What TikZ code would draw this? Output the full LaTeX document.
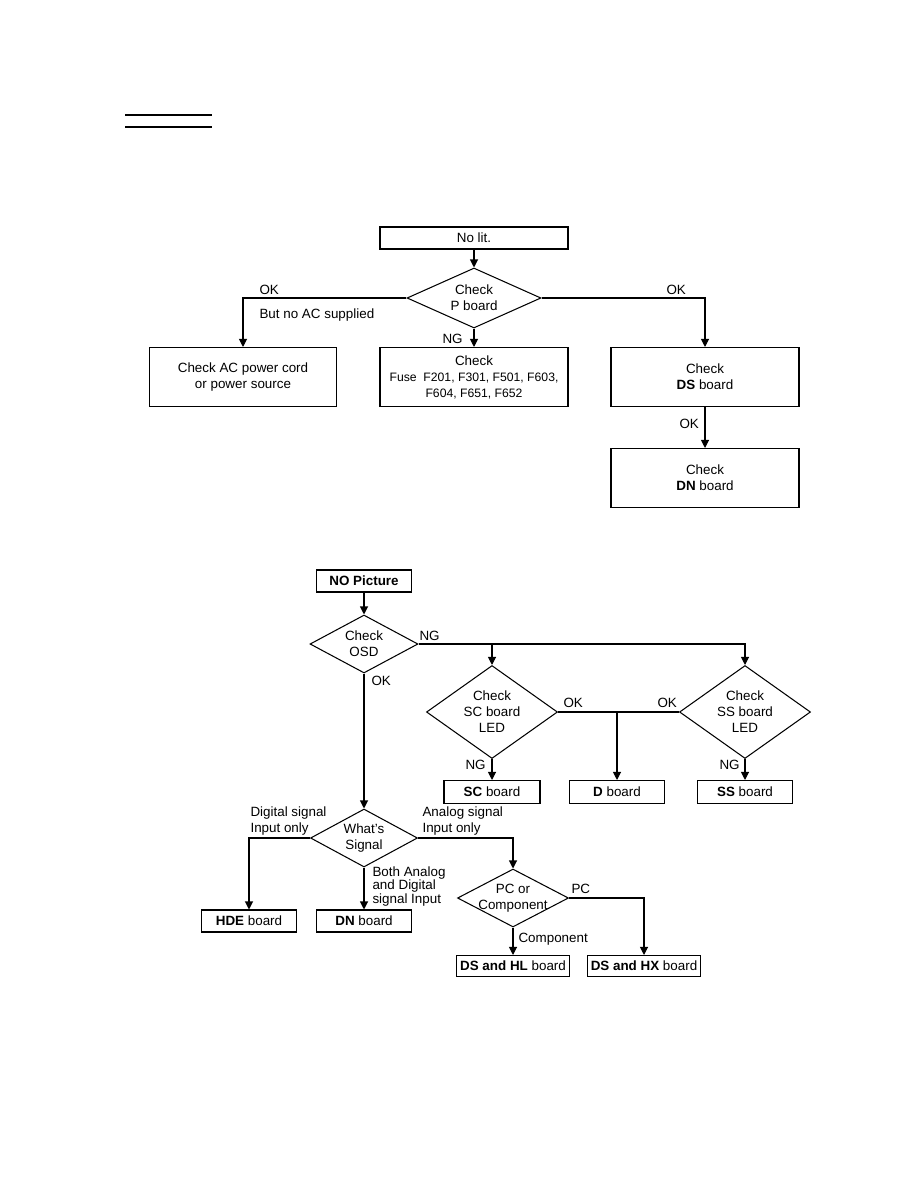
\documentclass[tikz,border=0pt]{standalone}
\usepackage{fontspec}
\setmainfont{Liberation Sans}
\usetikzlibrary{shapes.geometric,arrows.meta}

\begin{document}
\begin{tikzpicture}[x=1pt, y=-1pt, line width=1.05pt,
  every node/.style={font=\fontsize{13.4}{16}\selectfont, align=center},
  box/.style={draw, rectangle, inner sep=0pt, minimum width=#1},
  dia/.style={draw, diamond, inner sep=-10pt, aspect=2},
  lbl/.style={anchor=base west, inner sep=0pt, align=left},
  >={Triangle[length=8pt,width=8pt]}]
  \useasboundingbox (0,0) rectangle (918,1188);

  % heading rule
  \draw (125,115) -- (212,115);
  \draw (125,127) -- (212,127);

  % no lit
  \node[box=188, minimum height=22] (nolit) at (474,238) {No lit.};
  \node[dia, minimum width=134, minimum height=60] (pb) at (474,298) {Check\\P board};
  \node[box=187, minimum height=59] (acbox) at (243,377) {Check AC power cord\\or power source};
  \node[box=188, minimum height=59] (fuse) at (474,377)
    {Check\\{\fontsize{12.2}{16.5}\selectfont Fuse\ \ F201, F301, F501, F603,}\\{\fontsize{12.2}{16.5}\selectfont F604, F651, F652}};
  \node[box=188, minimum height=59] (dsbox) at (705,377) {Check\\\textbf{DS} board};
  \node[box=188, minimum height=59] (dnbox) at (705,478) {Check\\\textbf{DN} board};

  \draw[->] (nolit) -- (pb);
  \draw[->] (pb.west) -| (acbox.north);
  \draw[->] (pb.south) -- (fuse.north);
  \draw[->] (pb.east) -| (dsbox.north);
  \draw[->] (dsbox) -- (dnbox);

  \node[lbl] at (259,294) {OK};
  \node[lbl] at (259,318) {But no AC supplied};
  \node[lbl] at (442,343) {NG};
  \node[lbl] at (666,294) {OK};
  \node[lbl] at (679,428) {OK};

  % no picture
  \node[box=95, minimum height=22] (nopic) at (364,581) {\textbf{NO Picture}};
  \node[dia, minimum width=108, minimum height=58] (osd) at (364,644) {Check\\OSD};
  \node[dia, minimum width=131, minimum height=93] (scd) at (492,712) {Check\\SC board\\LED};
  \node[dia, minimum width=131, minimum height=93] (ssd) at (745,712) {Check\\SS board\\LED};
  \node[box=96, minimum height=23] (scb) at (492,792) {\textbf{SC} board};
  \node[box=95, minimum height=23] (db) at (617,792) {\textbf{D} board};
  \node[box=95, minimum height=23] (ssb) at (745,792) {\textbf{SS} board};
  \node[dia, minimum width=107, minimum height=58] (sig) at (364,838) {What’s\\Signal};
  \node[box=95, minimum height=22] (hde) at (249,921) {\textbf{HDE} board};
  \node[box=95, minimum height=22] (dnb) at (364,921) {\textbf{DN} board};
  \node[dia, minimum width=111, minimum height=58] (pcd) at (513,898) {PC or\\Component};
  \node[box=113, minimum height=21] (hl) at (513,966) {\textbf{DS and HL} board};
  \node[box=113, minimum height=21] (hx) at (644,966) {\textbf{DS and HX} board};

  \draw[->] (nopic) -- (osd);
  \draw[->] (osd.east) -| (ssd.north);
  \draw[->] (scd.north |- osd.east) -- (scd.north);
  \draw[->] (osd.south) -- (sig.north);
  \draw[->] (scd.south) -- (scb);
  \draw[->] (ssd.south) -- (ssb);
  \draw (scd.east) -- (ssd.west);
  \draw[->] (db.north |- scd.east) -- (db);
  \draw[->] (sig.west) -| (hde);
  \draw[->] (sig.south) -- (dnb);
  \draw[->] (sig.east) -| (pcd.north);
  \draw[->] (pcd.south) -- (hl);
  \draw[->] (pcd.east) -| (hx);

  \node[lbl] at (419,640) {NG};
  \node[lbl] at (371,685) {OK};
  \node[lbl] at (563,707) {OK};
  \node[lbl] at (657,707) {OK};
  \node[lbl] at (465,769) {NG};
  \node[lbl] at (719,769) {NG};
  \node[lbl] at (250,832) {Digital signal\\Input only};
  \node[lbl] at (422,832) {Analog signal\\Input only};
  \node[lbl, font=\fontsize{13.4}{13.5}\selectfont] at (372,903) {Both Analog\\and Digital\\signal Input};
  \node[lbl] at (571,893) {PC};
  \node[lbl] at (518,942) {Component};
\end{tikzpicture}
\end{document}
